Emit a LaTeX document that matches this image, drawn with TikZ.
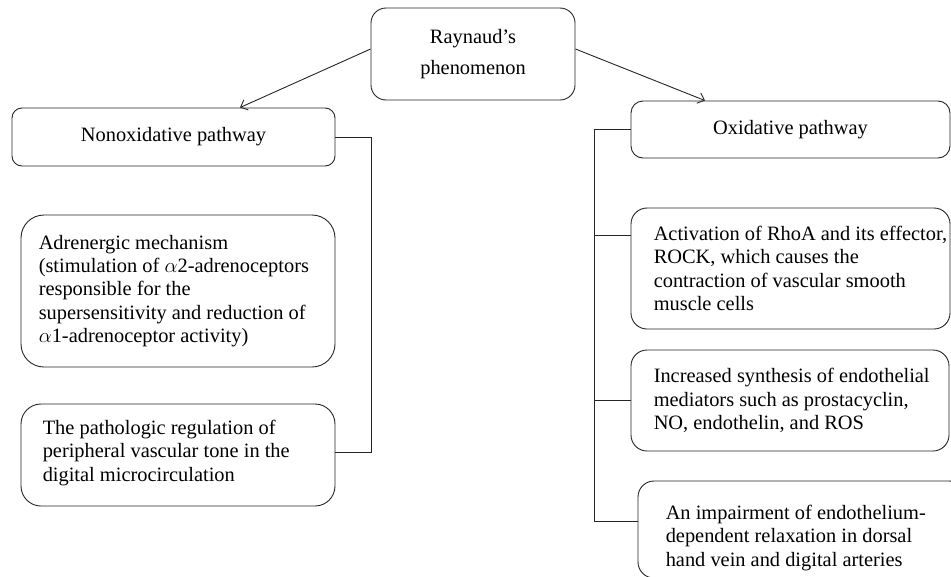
\documentclass[tikz,border=0pt]{standalone}
\usepackage{fontspec}
\setmainfont{Liberation Serif}
\usetikzlibrary{arrows.meta,calc}
\begin{document}
\begin{tikzpicture}[x=1pt,y=-1pt,
  box/.style={draw=black!85, line width=0.9pt, rectangle, inner sep=0pt},
  txt/.style={inner sep=0pt, align=left, font=\fontsize{20.4}{23.3}\selectfont},
  link/.style={draw=black!85, line width=0.9pt},
  arr/.style={link, -{Straight Barb[length=6pt,width=11pt]}}]
\clip (0,0) rectangle (951,576);
\fill[white] (0,0) rectangle (951,576);
% boxes
\node[box, rounded corners=15pt, minimum width=204pt, minimum height=92pt] (top) at (473,54) {};
\node[box, rounded corners=10pt, minimum width=323pt, minimum height=58pt] (nonox) at (173.5,137) {};
\node[box, rounded corners=23pt, minimum width=314pt, minimum height=152pt] (adren) at (178,291) {};
\node[box, rounded corners=20pt, minimum width=314pt, minimum height=102pt] (patho) at (178,455) {};
\node[box, rounded corners=12pt, minimum width=319pt, minimum height=57pt] (oxid) at (790.5,129.5) {};
\node[box, rounded corners=16pt, minimum width=319pt, minimum height=121pt] (activ) at (790.5,268.5) {};
\node[box, rounded corners=16pt, minimum width=318pt, minimum height=101pt] (incr) at (790,400.5) {};
\node[box, rounded corners=16pt, minimum width=327pt, minimum height=97pt] (impair) at (801.5,529.5) {};
% texts
\node[txt, align=center, font=\fontsize{20.4}{31}\selectfont] (toptxt) at (top.center) {Raynaud’s\\phenomenon};
\node[txt, align=center] (nonoxtxt) at (nonox.center) {Nonoxidative pathway};
\node[txt, anchor=west] (adrentxt) at ($(adren.west)+(18,0)$) {Adrenergic mechanism\\(stimulation of $\alpha$2-adrenoceptors\\responsible for the\\supersensitivity and reduction of\\$\alpha$1-adrenoceptor activity)};
\node[txt, anchor=west] (pathotxt) at ($(patho.west)+(22,-2)$) {The pathologic regulation of\\peripheral vascular tone in the\\digital microcirculation};
\node[txt, align=center] (oxidtxt) at (oxid.center) {Oxidative pathway};
\node[txt, anchor=west] (activtxt) at ($(activ.west)+(23,0)$) {Activation of RhoA and its effector,\\ROCK, which causes the\\contraction of vascular smooth\\muscle cells};
\node[txt, anchor=west] (incrtxt) at ($(incr.west)+(23,0)$) {Increased synthesis of endothelial\\mediators such as prostacyclin,\\NO, endothelin, and ROS};
\node[txt, anchor=west] (impairtxt) at ($(impair.west)+(28,8.5)$) {An impairment of endothelium-\\dependent relaxation in dorsal\\hand vein and digital arteries};
% arrows from the top
\draw[arr] ($(top.west)+(0,-5)$) -- ($(nonox.north)+(66.5,0)$);
\draw[arr] ($(top.east)+(0,-5)$) -- ($(oxid.north)+(-85.5,0)$);
% left tree
\draw[link] (nonox.east) -- ++(36,0) coordinate (lspine) |- ($(patho.east)+(0,-3)$);
% right tree
\coordinate (rtop) at ($(oxid.west)+(-36,0)$);
\coordinate (rbot) at ($(impair.west)+(-43,-8.5)$);
\draw[link] (oxid.west) -- (rtop) -- (rbot) -- (rbot -| impair.west);
\draw[link] (rtop |- 0,235) -- (activ.west |- 0,235);
\draw[link] (rtop |- incr.west) -- (incr.west);
\end{tikzpicture}
\end{document}
